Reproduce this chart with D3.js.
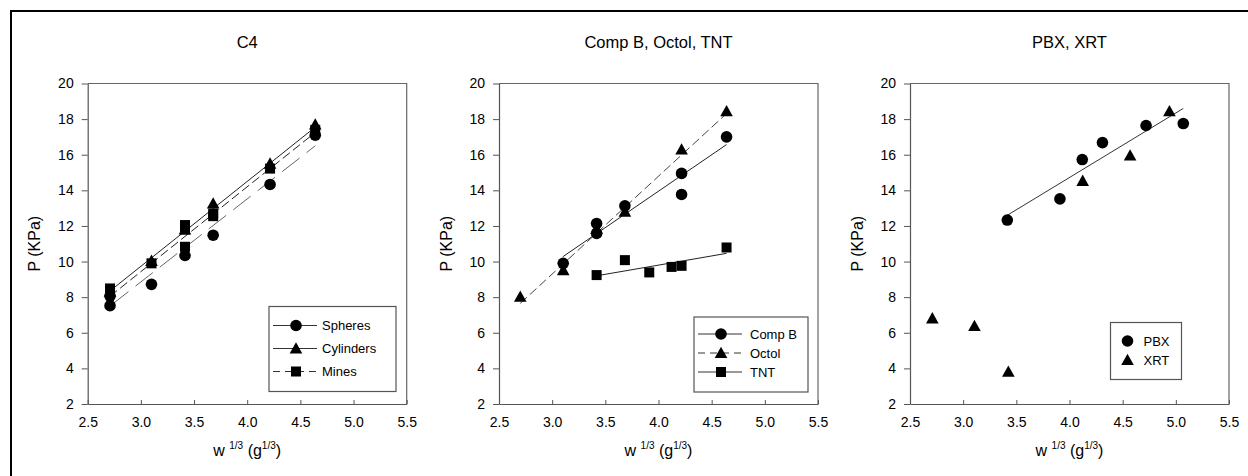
<!DOCTYPE html>
<html>
<head>
<meta charset="utf-8">
<script src="https://cdn.jsdelivr.net/npm/d3@7"></script>
<style>
  html, body { margin: 0; padding: 0; background: #fff; }
  svg { display: block; font-family: "Liberation Sans", Arial, sans-serif; }
</style>
</head>
<body>
<svg id="chart" width="1248" height="476"></svg>
<script>
// Axis ticks shared by all three panels
const xTicks = [2.5, 3.0, 3.5, 4.0, 4.5, 5.0, 5.5];
const yTicks = [2, 4, 6, 8, 10, 12, 14, 16, 18, 20];

// C4
const c4Spheres   = [[2.71, 7.52], [2.71, 8.06], [3.10, 8.72], [3.415, 10.34], [3.68, 11.48], [4.215, 14.33], [4.64, 17.10]];
const c4Cylinders = [[2.71, 8.30], [3.10, 10.04], [3.415, 11.80], [3.68, 13.26], [4.215, 15.50], [4.64, 17.70]];
const c4Mines     = [[2.71, 8.49], [3.10, 9.90], [3.415, 12.05], [3.415, 11.80], [3.415, 10.83], [3.68, 12.70], [3.68, 12.55], [4.215, 15.22], [4.64, 17.40]];
const c4FitSpheres   = [[2.72, 7.55], [4.64, 16.50]];
const c4FitCylinders = [[2.71, 8.35], [4.64, 17.55]];
const c4FitMines     = [[2.71, 8.05], [4.64, 17.25]];

// Comp B, Octol, TNT
const compB = [[3.104, 9.90], [3.418, 12.14], [3.418, 11.58], [3.684, 13.13], [4.217, 14.95], [4.217, 13.77], [4.64, 17.00]];
const octol = [[2.70, 8.02], [3.104, 9.52], [3.418, 11.85], [3.684, 12.80], [4.217, 16.29], [4.64, 18.44]];
const tnt   = [[3.418, 9.24], [3.684, 10.08], [3.913, 9.39], [4.123, 9.70], [4.217, 9.76], [4.64, 10.79]];
const fitCompB = [[3.10, 10.27], [4.64, 16.57]];
const fitOctol = [[2.70, 7.65], [4.64, 18.31]];
const fitTnt   = [[3.418, 9.20], [4.64, 10.46]];

// PBX, XRT
const pbx = [[3.415, 12.33], [3.91, 13.52], [4.12, 15.73], [4.31, 16.68], [4.72, 17.64], [5.07, 17.75]];
const xrt = [[2.71, 6.81], [3.106, 6.38], [3.425, 3.81], [4.124, 14.53], [4.57, 15.96], [4.94, 18.44]];
const fitPbx = [[3.415, 12.60], [5.07, 18.60]];

const svg = d3.select("#chart");

// outer frame
svg.append("rect")
  .attr("x", 11).attr("y", 11).attr("width", 1250).attr("height", 480)
  .attr("fill", "none").attr("stroke", "#000").attr("stroke-width", 2);

const plotTop = 83.5, plotBottom = 404, plotW = 319;

const dashStyles = {
  solid: null,
  long: "22,9",
  medium: "9,4",
  legendDash: "7,5"
};

function marker(g, shape, x, y) {
  if (shape === "circle") {
    g.append("circle").attr("cx", x).attr("cy", y).attr("r", 5.8).attr("fill", "#000");
  } else if (shape === "triangle") {
    const s = 6.3;
    g.append("path")
      .attr("d", `M${x},${y - s}L${x + s},${y + s * 0.8}L${x - s},${y + s * 0.8}Z`)
      .attr("fill", "#000");
  } else {
    g.append("rect").attr("x", x - 5).attr("y", y - 5).attr("width", 10).attr("height", 10).attr("fill", "#000");
  }
}

function panel(cfg) {
  const x = d3.scaleLinear().domain([2.5, 5.5]).range([cfg.left, cfg.left + plotW]);
  const y = d3.scaleLinear().domain([2, 20]).range([plotBottom, plotTop]);
  const g = svg.append("g");

  // frame lines top and right
  g.append("path")
    .attr("d", `M${cfg.left},${plotTop}H${cfg.left + plotW}V${plotBottom}`)
    .attr("fill", "none").attr("stroke", "#666").attr("stroke-width", 1.2);

  // x ticks point up into the plot, y ticks point out to the left
  const xAxis = g.append("g")
    .attr("transform", `translate(0,${plotBottom})`)
    .call(d3.axisBottom(x).tickValues(xTicks).tickFormat(d3.format(".1f")).tickSize(-4).tickSizeOuter(0));
  const yAxis = g.append("g")
    .attr("transform", `translate(${cfg.left},0)`)
    .call(d3.axisLeft(y).tickValues(yTicks).tickSize(6).tickPadding(8).tickSizeOuter(0));
  [xAxis, yAxis].forEach(a => {
    a.select(".domain").attr("stroke", "#555").attr("stroke-width", 1.2);
    a.selectAll(".tick line").attr("stroke", "#555");
    a.selectAll(".tick text").attr("fill", "#000").attr("font-size", 14)
      .attr("font-family", "'Liberation Sans', Arial, sans-serif");
  });
  xAxis.selectAll(".tick text").attr("y", 13).attr("dy", "0.71em");

  // title
  g.append("text")
    .attr("x", cfg.left + plotW / 2).attr("y", 48)
    .attr("text-anchor", "middle").attr("font-size", 16.5).text(cfg.title);

  // y label
  g.append("text")
    .attr("transform", `translate(${cfg.left - 53},${(plotTop + plotBottom) / 2}) rotate(-90)`)
    .attr("text-anchor", "middle").attr("dy", "0.36em").attr("font-size", 16).text("P (KPa)");

  // x label
  const xl = g.append("text")
    .attr("x", cfg.left + plotW / 2).attr("y", 456)
    .attr("text-anchor", "middle").attr("font-size", 16);
  xl.append("tspan").text("w ");
  xl.append("tspan").attr("font-size", 10).attr("dy", -7).text("1/3");
  xl.append("tspan").attr("dy", 7).text(" (g");
  xl.append("tspan").attr("font-size", 10).attr("dy", -7).text("1/3");
  xl.append("tspan").attr("dy", 7).text(")");

  // fit lines
  const line = d3.line().x(d => x(d[0])).y(d => y(d[1]));
  cfg.fits.forEach(f => {
    g.append("path").datum(f.data).attr("d", line)
      .attr("fill", "none").attr("stroke", f.color).attr("stroke-width", 1)
      .attr("stroke-dasharray", dashStyles[f.dash]);
  });

  // points
  cfg.series.forEach(s => {
    s.data.forEach(d => marker(g, s.shape, x(d[0]), y(d[1])));
  });

  // legend
  const L = cfg.legend;
  g.append("rect").attr("x", L.x).attr("y", L.y).attr("width", L.w).attr("height", L.h)
    .attr("fill", "#fff").attr("stroke", "#555").attr("stroke-width", 1.2);
  L.items.forEach((it, i) => {
    const cy = L.y + L.first + i * L.step;
    if (it.dash !== "none") {
      g.append("line").attr("x1", L.x + 4).attr("x2", L.x + 48).attr("y1", cy).attr("y2", cy)
        .attr("stroke", "#333").attr("stroke-width", 1)
        .attr("stroke-dasharray", it.dash === "dash" ? dashStyles.legendDash : null);
    }
    marker(g, it.shape, L.x + (it.dash === "none" ? 17 : 27), cy);
    g.append("text").attr("x", L.x + L.textX).attr("y", cy).attr("dy", "0.36em")
      .attr("font-size", 13).text(it.label);
  });
}

panel({
  left: 87.7, title: "C4",
  fits: [
    { data: c4FitSpheres, dash: "long", color: "#666" },
    { data: c4FitMines, dash: "medium", color: "#222" },
    { data: c4FitCylinders, dash: "solid", color: "#222" }
  ],
  series: [
    { data: c4Spheres, shape: "circle" },
    { data: c4Cylinders, shape: "triangle" },
    { data: c4Mines, shape: "square" }
  ],
  legend: { x: 269, y: 306.5, w: 127, h: 85, first: 19, step: 23, textX: 53,
    items: [
      { label: "Spheres", shape: "circle", dash: "solid" },
      { label: "Cylinders", shape: "triangle", dash: "solid" },
      { label: "Mines", shape: "square", dash: "dash" }
    ] }
});

panel({
  left: 499, title: "Comp B, Octol, TNT",
  fits: [
    { data: fitOctol, dash: "medium", color: "#444" },
    { data: fitCompB, dash: "solid", color: "#222" },
    { data: fitTnt, dash: "solid", color: "#222" }
  ],
  series: [
    { data: compB, shape: "circle" },
    { data: octol, shape: "triangle" },
    { data: tnt, shape: "square" }
  ],
  legend: { x: 694, y: 317, w: 114, h: 75, first: 17, step: 19, textX: 56,
    items: [
      { label: "Comp B", shape: "circle", dash: "solid" },
      { label: "Octol", shape: "triangle", dash: "dash" },
      { label: "TNT", shape: "square", dash: "solid" }
    ] }
});

panel({
  left: 910, title: "PBX, XRT",
  fits: [
    { data: fitPbx, dash: "solid", color: "#333" }
  ],
  series: [
    { data: pbx, shape: "circle" },
    { data: xrt, shape: "triangle" }
  ],
  legend: { x: 1110.5, y: 322.5, w: 71, h: 57, first: 18.5, step: 19, textX: 33,
    items: [
      { label: "PBX", shape: "circle", dash: "none" },
      { label: "XRT", shape: "triangle", dash: "none" }
    ] }
});
</script>
</body>
</html>
